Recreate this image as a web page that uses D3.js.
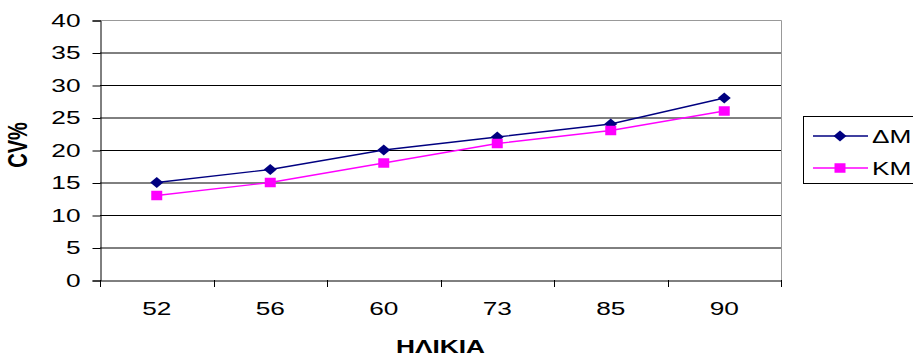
<!DOCTYPE html>
<html>
<head>
<meta charset="utf-8">
<script src="https://cdn.jsdelivr.net/npm/d3@7"></script>
<style>
  html, body { margin: 0; padding: 0; background: #fff; }
  svg { display: block; font-family: "Liberation Sans", Arial, sans-serif; }
</style>
</head>
<body>
<svg id="chart" width="913" height="358"></svg>
<script>
// Ages along the x axis
const ages = ["52", "56", "60", "73", "85", "90"];
// CV% per group
const dmValues = [15, 17, 20, 22, 24, 28];
const kmValues = [13, 15, 18, 21, 23, 26];
const yTicks = [0, 5, 10, 15, 20, 25, 30, 35, 40];
const seriesNames = ["ΔΜ", "ΚΜ"];

const svg = d3.select("#chart");
const plot = { left: 100, top: 20, right: 781, bottom: 280 };
const FONT = 18.5;   // label size
const SX = 1.42;     // horizontal stretch of all lettering

const x = d3.scaleBand().domain(ages).range([plot.left, plot.right]);
const y = d3.scaleLinear().domain([0, 40]).range([plot.bottom, plot.top]);

// Horizontal gridlines
svg.append("g")
  .selectAll("line")
  .data(yTicks.filter(t => t > 0 && t < 40))
  .join("line")
  .attr("x1", plot.left).attr("x2", plot.right)
  .attr("y1", d => y(d) + 0.5).attr("y2", d => y(d) + 0.5)
  .attr("stroke", "#000").attr("stroke-width", 1);

// Top and right border of the plot area
svg.append("path")
  .attr("d", `M${plot.left},${plot.top + 0.5}H${plot.right + 0.5}V${plot.bottom}`)
  .attr("fill", "none").attr("stroke", "#999").attr("stroke-width", 1);

// Y axis
const yAxis = d3.axisLeft(y).tickValues(yTicks).tickSize(8);
const gy = svg.append("g").attr("transform", `translate(${plot.left + 0.5},0.5)`).call(yAxis);
gy.select(".domain").attr("stroke", "#000");
gy.selectAll(".tick line").attr("stroke", "#000");
gy.selectAll(".tick text")
  .attr("font-size", FONT).attr("fill", "#000")
  .attr("font-family", "Liberation Sans, Arial, sans-serif")
  .attr("x", -20 / SX).attr("dy", "0.3em")
  .attr("transform", `scale(${SX},1)`);

// X axis with ticks between categories
const xAxis = d3.axisBottom(x).tickSize(0).tickPadding(0);
const gx = svg.append("g").attr("transform", `translate(0,${plot.bottom + 0.5})`).call(xAxis);
gx.select(".domain").attr("stroke", "#000");
gx.selectAll(".tick text")
  .attr("font-size", FONT).attr("fill", "#000")
  .attr("font-family", "Liberation Sans, Arial, sans-serif")
  .attr("y", 35).attr("dy", 0)
  .attr("transform", `scale(${SX},1)`);
const boundaries = ages.map(a => x(a)).concat([plot.right]);
svg.append("g").selectAll("line").data(boundaries).join("line")
  .attr("x1", d => Math.round(d) + 0.5).attr("x2", d => Math.round(d) + 0.5)
  .attr("y1", plot.bottom).attr("y2", plot.bottom + 7)
  .attr("stroke", "#000");

// Axis titles
svg.append("text")
  .attr("transform", `translate(${(plot.left + plot.right) / 2},353) scale(${SX},1)`)
  .attr("text-anchor", "middle").attr("font-size", FONT).attr("font-weight", "bold")
  .text("ΗΛΙΚΙΑ");
svg.append("text")
  .attr("transform", `translate(27,145) scale(${SX},1) rotate(-90)`)
  .attr("text-anchor", "middle").attr("font-size", 20).attr("font-weight", "bold")
  .text("CV%");

const cx = d => x(d) + x.bandwidth() / 2;
const line = d3.line().x(d => cx(d.age)).y(d => y(d.v));

// Marker outlines: a wide diamond and a slightly wide square
const diamond = (w, h) => `M0,${-h / 2}L${w / 2},0L0,${h / 2}L${-w / 2},0Z`;
const rect = (w, h) => `M${-w / 2},${-h / 2}h${w}v${h}h${-w}Z`;

const series = [
  { name: seriesNames[0], values: dmValues, color: "#000080", marker: diamond(13, 11) },
  { name: seriesNames[1], values: kmValues, color: "#ff00ff", marker: rect(11, 9.5) }
];

series.forEach(s => {
  const pts = ages.map((a, i) => ({ age: a, v: s.values[i] }));
  svg.append("path").datum(pts).attr("d", line)
    .attr("fill", "none").attr("stroke", s.color).attr("stroke-width", 1.3);
  svg.append("g").selectAll("path").data(pts).join("path")
    .attr("transform", d => `translate(${cx(d.age)},${y(d.v)})`)
    .attr("d", s.marker)
    .attr("fill", s.color);
});

// Legend
const legend = svg.append("g");
legend.append("rect")
  .attr("x", 803.5).attr("y", 116.5).attr("width", 120).attr("height", 67)
  .attr("fill", "#fff").attr("stroke", "#000");
series.forEach((s, i) => {
  const ly = 136 + i * 32;
  legend.append("line").attr("x1", 813).attr("x2", 868).attr("y1", ly).attr("y2", ly)
    .attr("stroke", s.color).attr("stroke-width", 1.3);
  legend.append("path").attr("transform", `translate(840,${ly})`)
    .attr("d", s.marker).attr("fill", s.color);
  legend.append("text")
    .attr("transform", `translate(872,${ly + 7}) scale(${SX},1)`)
    .attr("font-size", FONT).text(s.name);
});
</script>
</body>
</html>
